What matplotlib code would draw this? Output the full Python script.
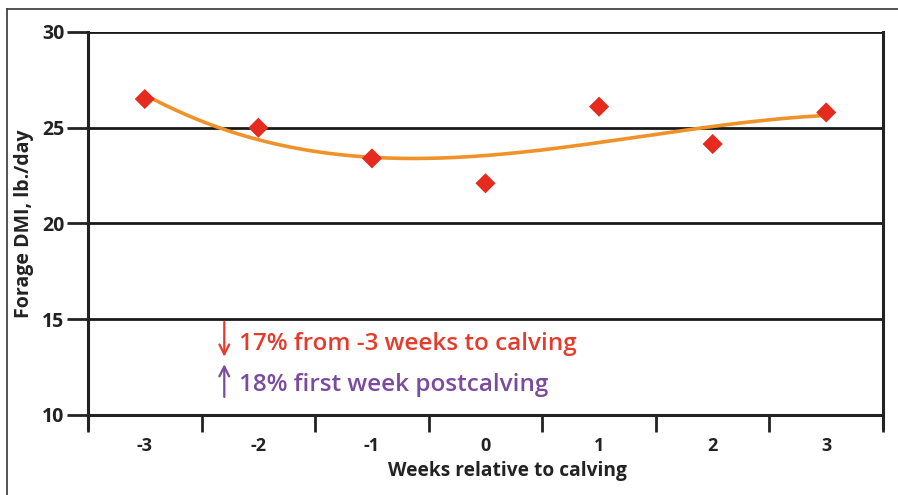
import matplotlib
matplotlib.use("Agg")
import matplotlib.pyplot as plt
import numpy as np

weeks = [-3, -2, -1, 0, 1, 2, 3]
tick_labels = ["-3", "-2", "-1", "0", "1", "2", "3"]
dmi = [26.5, 25.0, 23.4, 22.1, 26.1, 24.15, 25.8]
y_ticks = [10, 15, 20, 25, 30]
note_down = "17% from -3 weeks to calving"
note_up = "18% first week postcalving"

plt.rcParams['font.family'] = ['Open Sans', 'DejaVu Sans']

fig = plt.figure(figsize=(8.98, 4.95), dpi=100)
fig.patch.set_facecolor('white')
ax = fig.add_axes([88/898, 80/495, 795/898, 383/495])

# trend curve (cubic polynomial fit of the data)
coef = np.polyfit(weeks, dmi, 3)
xs = np.linspace(-3, 3, 200)
ax.plot(xs, np.polyval(coef, xs), color='#f0922a', lw=2.6, zorder=3, solid_capstyle='round')

ax.scatter(weeks, dmi, marker='D', s=105, color='#e52a1e', zorder=4, edgecolors='none')

for s in ['left', 'right', 'bottom']:
    ax.spines[s].set_color('#222')
    ax.spines[s].set_linewidth(2.2)
ax.spines['top'].set_visible(False)

ax.set_xlim(-3.5, 3.5)
ax.set_ylim(10, 30)
ax.spines['left'].set_bounds(9.3, 30)
ax.spines['right'].set_bounds(9.3, 30)

ax.set_yticks(y_ticks)
ax.set_yticklabels([str(v) for v in y_ticks])
ax.set_xticks(weeks)
ax.set_xticklabels(tick_labels)
ax.set_xticks(np.arange(-3.5, 3.6, 1), minor=True)
ax.tick_params(axis='x', which='major', length=0, pad=16, labelsize=13, labelcolor='#222')
ax.tick_params(axis='x', which='minor', length=12, width=2, color='#222', direction='out')
ax.tick_params(axis='y', length=15, width=2, color='#222', pad=2, labelsize=14, labelcolor='#222')
for lab in ax.get_xticklabels() + ax.get_yticklabels():
    lab.set_fontweight('bold')

for v in y_ticks[1:]:
    ax.axhline(v, color='#1a1a1a', lw=2, zorder=2)

ax.set_ylabel("Forage DMI, lb./day", fontsize=14, fontweight='bold', color='#222', labelpad=6)
ax.set_xlabel("Weeks relative to calving", fontsize=13.8, fontweight='bold', color='#222', labelpad=4)
ax.xaxis.label.set_x(0.527)

ax.text(-2.17, 13.7, note_down, color='#e53b2c', fontsize=17.5, fontweight='semibold', va='center', ha='left')
ax.text(-2.17, 11.55, note_up, color='#7a4a9f', fontsize=17.5, fontweight='semibold', va='center', ha='left')
ax.annotate('', xy=(-2.3, 12.9), xytext=(-2.3, 15.0),
            arrowprops=dict(arrowstyle='->,head_length=0.7,head_width=0.35', color='#e53b2c', lw=1.6))
ax.annotate('', xy=(-2.3, 12.8), xytext=(-2.3, 10.8),
            arrowprops=dict(arrowstyle='->,head_length=0.7,head_width=0.35', color='#7a4a9f', lw=1.6))

# outer frame (left and top)
fig.add_artist(plt.Line2D([7/898, 7/898], [0, 1 - 9/495], transform=fig.transFigure, color='#444', lw=1.3))
fig.add_artist(plt.Line2D([7/898, 1], [1 - 9/495, 1 - 9/495], transform=fig.transFigure, color='#444', lw=1.3))

fig.savefig("out.png", dpi=100)
